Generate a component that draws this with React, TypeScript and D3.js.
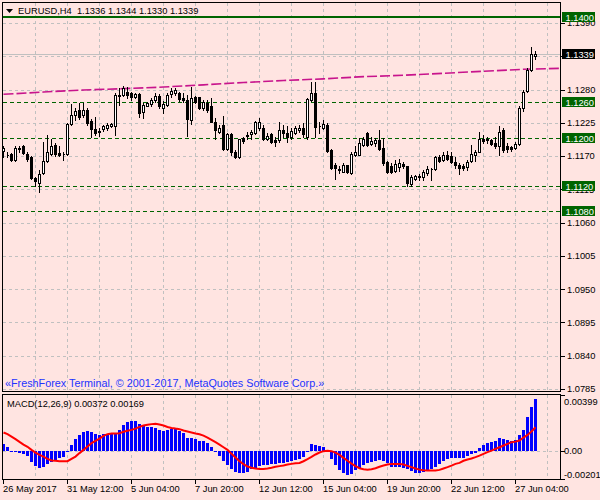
import React, { useEffect, useRef } from 'react';
import { line, scaleLinear, select } from 'd3';

const symbol = 'EURUSD';
const timeframe = 'H4';

const opens = [
  1.1178, 1.1172, 1.1174, 1.1164, 1.1184, 1.1186, 1.1174, 1.1169, 1.1134, 1.1126,
  1.1142, 1.1162, 1.1174, 1.1188, 1.1175, 1.1174, 1.1174, 1.1223, 1.1238, 1.1246,
  1.1238, 1.1247, 1.1228, 1.1214, 1.1212, 1.1215, 1.1217, 1.1220, 1.1220, 1.1271,
  1.1271, 1.1276, 1.1274, 1.1267, 1.1272, 1.1243, 1.1253, 1.1256, 1.1263, 1.1270,
  1.1250, 1.1254, 1.1272, 1.1274, 1.1274, 1.1266, 1.1263, 1.1230, 1.1268, 1.1267,
  1.1249, 1.1257, 1.1252, 1.1227, 1.1210, 1.1221, 1.1182, 1.1206, 1.1177, 1.1169,
  1.1200, 1.1205, 1.1206, 1.1208, 1.1216, 1.1216, 1.1199, 1.1207, 1.1196, 1.1197,
  1.1213, 1.1208, 1.1202, 1.1208, 1.1213, 1.1217, 1.1202, 1.1263, 1.1274, 1.1220,
  1.1217, 1.1221, 1.1180, 1.1155, 1.1149, 1.1144, 1.1155, 1.1142, 1.1172, 1.1172,
  1.1188, 1.1208, 1.1190, 1.1192, 1.1197, 1.1184, 1.1160, 1.1154, 1.1146, 1.1152,
  1.1157, 1.1153, 1.1124, 1.1132, 1.1136, 1.1135, 1.1142, 1.1148, 1.1148, 1.1169,
  1.1164, 1.1172, 1.1170, 1.1161, 1.1155, 1.1154, 1.1152, 1.1162, 1.1171, 1.1177,
  1.1198, 1.1197, 1.1197, 1.1191, 1.1186, 1.1213, 1.1187, 1.1185, 1.1183, 1.1190,
  1.1249, 1.1278, 1.1313, 1.1336,
];
const highs = [
  1.1186, 1.1177, 1.1175, 1.1186, 1.1187, 1.1188, 1.1177, 1.1170, 1.1136, 1.1147,
  1.1194, 1.1205, 1.1199, 1.1191, 1.1186, 1.1177, 1.1224, 1.1256, 1.1249, 1.1258,
  1.1257, 1.1249, 1.1232, 1.1235, 1.1216, 1.1221, 1.1224, 1.1225, 1.1274, 1.1282,
  1.1286, 1.1285, 1.1276, 1.1274, 1.1274, 1.1257, 1.1260, 1.1266, 1.1274, 1.1272,
  1.1261, 1.1274, 1.1282, 1.1282, 1.1276, 1.1274, 1.1271, 1.1285, 1.1270, 1.1268,
  1.1263, 1.1263, 1.1266, 1.1233, 1.1221, 1.1237, 1.1208, 1.1208, 1.1180, 1.1199,
  1.1202, 1.1210, 1.1213, 1.1228, 1.1233, 1.1221, 1.1208, 1.1208, 1.1202, 1.1226,
  1.1221, 1.1219, 1.1216, 1.1219, 1.1221, 1.1224, 1.1266, 1.1292, 1.1292, 1.1227,
  1.1230, 1.1224, 1.1182, 1.1158, 1.1153, 1.1158, 1.1156, 1.1177, 1.1186, 1.1200,
  1.1202, 1.1209, 1.1202, 1.1200, 1.1213, 1.1200, 1.1162, 1.1158, 1.1164, 1.1165,
  1.1161, 1.1154, 1.1139, 1.1139, 1.1140, 1.1147, 1.1153, 1.1150, 1.1170, 1.1172,
  1.1176, 1.1179, 1.1177, 1.1168, 1.1159, 1.1157, 1.1164, 1.1189, 1.1180, 1.1209,
  1.1205, 1.1202, 1.1199, 1.1202, 1.1220, 1.1216, 1.1191, 1.1187, 1.1193, 1.1252,
  1.1280, 1.1315, 1.1351, 1.1344,
];
const lows = [
  1.1168, 1.1168, 1.1162, 1.1162, 1.1177, 1.1174, 1.1162, 1.1132, 1.1121, 1.1110,
  1.1141, 1.1161, 1.1172, 1.1170, 1.1170, 1.1164, 1.1172, 1.1221, 1.1230, 1.1231,
  1.1234, 1.1221, 1.1202, 1.1205, 1.1203, 1.1212, 1.1213, 1.1218, 1.1205, 1.1254,
  1.1269, 1.1266, 1.1262, 1.1266, 1.1235, 1.1233, 1.1252, 1.1252, 1.1260, 1.1250,
  1.1241, 1.1253, 1.1268, 1.1271, 1.1261, 1.1260, 1.1203, 1.1223, 1.1257, 1.1248,
  1.1247, 1.1243, 1.1226, 1.1199, 1.1208, 1.1180, 1.1180, 1.1171, 1.1167, 1.1167,
  1.1191, 1.1199, 1.1199, 1.1206, 1.1213, 1.1197, 1.1197, 1.1191, 1.1187, 1.1194,
  1.1202, 1.1194, 1.1199, 1.1206, 1.1210, 1.1202, 1.1199, 1.1261, 1.1202, 1.1208,
  1.1215, 1.1176, 1.1149, 1.1132, 1.1142, 1.1143, 1.1142, 1.1140, 1.1170, 1.1171,
  1.1186, 1.1187, 1.1188, 1.1186, 1.1180, 1.1155, 1.1142, 1.1142, 1.1144, 1.1145,
  1.1150, 1.1120, 1.1121, 1.1131, 1.1131, 1.1130, 1.1139, 1.1131, 1.1147, 1.1161,
  1.1162, 1.1164, 1.1159, 1.1150, 1.1140, 1.1147, 1.1147, 1.1161, 1.1162, 1.1176,
  1.1191, 1.1191, 1.1188, 1.1183, 1.1172, 1.1176, 1.1177, 1.1179, 1.1181, 1.1188,
  1.1245, 1.1276, 1.1311, 1.1330,
];
const closes = [
  1.1183, 1.1171, 1.1164, 1.1183, 1.1182, 1.1175, 1.1165, 1.1133, 1.1128, 1.1140,
  1.1162, 1.1176, 1.1187, 1.1174, 1.1172, 1.1173, 1.1223, 1.1238, 1.1245, 1.1234,
  1.1247, 1.1224, 1.1214, 1.1208, 1.1209, 1.1219, 1.1221, 1.1223, 1.1271, 1.1270,
  1.1282, 1.1271, 1.1267, 1.1272, 1.1242, 1.1254, 1.1257, 1.1263, 1.1269, 1.1253,
  1.1256, 1.1271, 1.1278, 1.1279, 1.1264, 1.1263, 1.1231, 1.1266, 1.1259, 1.1249,
  1.1260, 1.1246, 1.1227, 1.1213, 1.1216, 1.1182, 1.1206, 1.1177, 1.1169, 1.1198,
  1.1195, 1.1204, 1.1209, 1.1227, 1.1227, 1.1199, 1.1203, 1.1194, 1.1193, 1.1213,
  1.1208, 1.1202, 1.1212, 1.1216, 1.1217, 1.1206, 1.1264, 1.1274, 1.1218, 1.1219,
  1.1223, 1.1178, 1.1151, 1.1150, 1.1147, 1.1155, 1.1143, 1.1174, 1.1176, 1.1191,
  1.1199, 1.1188, 1.1195, 1.1197, 1.1182, 1.1158, 1.1144, 1.1144, 1.1157, 1.1158,
  1.1153, 1.1125, 1.1136, 1.1137, 1.1137, 1.1144, 1.1148, 1.1149, 1.1168, 1.1162,
  1.1172, 1.1166, 1.1161, 1.1155, 1.1151, 1.1150, 1.1161, 1.1174, 1.1177, 1.1198,
  1.1195, 1.1198, 1.1190, 1.1187, 1.1210, 1.1180, 1.1181, 1.1181, 1.1190, 1.1249,
  1.1276, 1.1312, 1.1339, 1.1339,
];

// MACD(12,26,9): main line drawn as histogram, signal as red line
const macdMain = [
  0.00050, 0.00029, -0.00007, -0.00007, -0.00011, -0.00021, -0.00036, -0.00076, -0.00107, -0.00119,
  -0.00112, -0.00095, -0.00076, -0.00064, -0.00052, -0.00041, -0.00002, 0.00043, 0.00084, 0.00114,
  0.00134, 0.00143, 0.00138, 0.00121, 0.00114, 0.00119, 0.00119, 0.00119, 0.00126, 0.00150,
  0.00186, 0.00205, 0.00216, 0.00216, 0.00191, 0.00181, 0.00174, 0.00169, 0.00162, 0.00150,
  0.00145, 0.00150, 0.00155, 0.00155, 0.00145, 0.00126, 0.00095, 0.00095, 0.00084, 0.00071,
  0.00071, 0.00059, 0.00031, 0.00002, -0.00036, -0.00071, -0.00100, -0.00131, -0.00152, -0.00155,
  -0.00155, -0.00148, -0.00131, -0.00119, -0.00107, -0.00100, -0.00100, -0.00095, -0.00095, -0.00088,
  -0.00084, -0.00076, -0.00069, -0.00064, -0.00057, -0.00045, -0.00007, 0.00050, 0.00045, 0.00036,
  0.00029, 0.00002, -0.00057, -0.00100, -0.00136, -0.00157, -0.00171, -0.00164, -0.00136, -0.00121,
  -0.00100, -0.00086, -0.00079, -0.00071, -0.00066, -0.00071, -0.00086, -0.00114, -0.00114, -0.00114,
  -0.00121, -0.00129, -0.00143, -0.00155, -0.00159, -0.00150, -0.00136, -0.00126, -0.00114, -0.00093,
  -0.00071, -0.00057, -0.00052, -0.00050, -0.00050, -0.00052, -0.00034, -0.00024, -0.00016, 0.00019,
  0.00043, 0.00057, 0.00064, 0.00069, 0.00093, 0.00084, 0.00076, 0.00071, 0.00081, 0.00114,
  0.00152, 0.00243, 0.00314, 0.00372,
];
const macdSignal = [
  0.00131, 0.00119, 0.00102, 0.00084, 0.00064, 0.00045, 0.00029, 0.00007, -0.00012, -0.00029,
  -0.00041, -0.00057, -0.00069, -0.00071, -0.00074, -0.00074, -0.00074, -0.00057, -0.00041, -0.00016,
  0.00007, 0.00031, 0.00055, 0.00071, 0.00088, 0.00107, 0.00119, 0.00124, 0.00124, 0.00126,
  0.00136, 0.00143, 0.00150, 0.00159, 0.00171, 0.00181, 0.00186, 0.00191, 0.00193, 0.00188,
  0.00181, 0.00171, 0.00164, 0.00159, 0.00155, 0.00145, 0.00138, 0.00131, 0.00124, 0.00119,
  0.00109, 0.00095, 0.00079, 0.00062, 0.00045, 0.00026, 0.00007, -0.00021, -0.00048, -0.00074,
  -0.00095, -0.00112, -0.00121, -0.00126, -0.00129, -0.00129, -0.00126, -0.00121, -0.00114, -0.00109,
  -0.00105, -0.00098, -0.00093, -0.00088, -0.00086, -0.00074, -0.00059, -0.00043, -0.00026, -0.00012,
  -0.00002, 0.00000, -0.00002, -0.00012, -0.00029, -0.00050, -0.00071, -0.00091, -0.00109, -0.00124,
  -0.00131, -0.00134, -0.00131, -0.00124, -0.00114, -0.00105, -0.00098, -0.00093, -0.00093, -0.00093,
  -0.00098, -0.00107, -0.00116, -0.00126, -0.00134, -0.00138, -0.00141, -0.00141, -0.00141, -0.00136,
  -0.00126, -0.00116, -0.00105, -0.00093, -0.00086, -0.00071, -0.00062, -0.00055, -0.00045, -0.00034,
  -0.00021, -0.00009, 0.00002, 0.00014, 0.00026, 0.00038, 0.00050, 0.00062, 0.00066, 0.00074,
  0.00095, 0.00114, 0.00138, 0.00169,
];

// slow moving average (shifted forward), read every 10 bars
const maBars = [0, 10, 20, 30, 40, 50, 60, 70, 80, 90, 100, 110, 120, 130, 139];
const maValues = [
  1.12721, 1.12759, 1.12793, 1.12815, 1.12841, 1.12878, 1.12916, 1.12949,
  1.12977, 1.13013, 1.13036, 1.13069, 1.13102, 1.13135, 1.13150,
];

const priceTicks = [1.1390, 1.1335, 1.1280, 1.1225, 1.1170, 1.1115, 1.1060, 1.1005, 1.0950, 1.0895, 1.0840, 1.0785];
const resistanceLevel = 1.1400;
const dashedLevels = [1.1260, 1.1200, 1.1120, 1.1080];

const timeTickBars = [0, 16, 32, 48, 64, 80, 96, 112, 128];
const timeTickLabels = ['26 May 2017', '31 May 12:00', '5 Jun 04:00', '7 Jun 20:00', '12 Jun 12:00', '15 Jun 04:00', '19 Jun 20:00', '22 Jun 12:00', '27 Jun 04:00'];
const gridBars = [8, 16, 24, 32, 40, 48, 56, 64, 72, 80, 88, 96, 104, 112, 120, 128, 136];

const macdTicks = [0.00399, 0, -0.00201];
const macdTickLabels = ['0.00399', '0.00', '-0.00201'];

const FONT = 'Tahoma, "Liberation Sans", Arial, sans-serif';
const BG = '#ffe4e1';
const GRID = '#c0c0c0';
const LEVEL = '#006400';

const main = { left: 2.5, right: 560.5, top: 2.5, bottom: 391.5 };
const sub = { top: 394.5, bottom: 479.5 };

function App() {
  const svgRef = useRef<SVGSVGElement | null>(null);

  useEffect(() => {
    document.body.style.margin = '0';
    document.body.style.background = BG;
    const svg = select(svgRef.current);
    svg.selectAll('*').remove();

    const n = closes.length;
    const x = scaleLinear().domain([0, n - 1]).range([3, 3 + 4 * (n - 1)]);
    const y = scaleLinear().domain([1.0785, 1.1390]).range([389, 23]);
    const ym = scaleLinear().domain([-0.00201, 0.00399]).range([479, 395]);
    const snap = (v: number) => Math.round(v) + 0.5;
    const last = n - 1;

    svg.append('rect').attr('width', 600).attr('height', 500).attr('fill', BG);

    const defs = svg.append('defs');
    defs.append('clipPath').attr('id', 'mainClip').append('rect')
      .attr('x', main.left).attr('y', main.top)
      .attr('width', main.right - main.left).attr('height', main.bottom - main.top);
    defs.append('clipPath').attr('id', 'subClip').append('rect')
      .attr('x', main.left).attr('y', sub.top)
      .attr('width', main.right - main.left).attr('height', sub.bottom - sub.top);

    // grid
    const grid = svg.append('g').attr('stroke', GRID).attr('stroke-dasharray', '3,3').attr('shape-rendering', 'crispEdges');
    gridBars.forEach(b => {
      grid.append('line').attr('x1', x(b) + 0.5).attr('x2', x(b) + 0.5).attr('y1', main.top).attr('y2', main.bottom);
      grid.append('line').attr('x1', x(b) + 0.5).attr('x2', x(b) + 0.5).attr('y1', sub.top).attr('y2', sub.bottom);
    });
    priceTicks.forEach(p => {
      grid.append('line').attr('x1', main.left).attr('x2', main.right).attr('y1', snap(y(p))).attr('y2', snap(y(p)));
    });
    grid.append('line').attr('x1', main.left).attr('x2', main.right).attr('y1', snap(ym(0))).attr('y2', snap(ym(0)));

    const plot = svg.append('g').attr('clip-path', 'url(#mainClip)');

    // bid line
    plot.append('line').attr('x1', main.left).attr('x2', main.right)
      .attr('y1', snap(y(closes[last]))).attr('y2', snap(y(closes[last])))
      .attr('stroke', GRID).attr('shape-rendering', 'crispEdges');

    // levels
    plot.append('line').attr('x1', main.left).attr('x2', main.right)
      .attr('y1', Math.round(y(resistanceLevel))).attr('y2', Math.round(y(resistanceLevel)))
      .attr('stroke', LEVEL).attr('stroke-width', 2).attr('shape-rendering', 'crispEdges');
    dashedLevels.forEach(p => {
      plot.append('line').attr('x1', main.left).attr('x2', main.right)
        .attr('y1', snap(y(p))).attr('y2', snap(y(p)))
        .attr('stroke', LEVEL).attr('stroke-dasharray', '4,3').attr('shape-rendering', 'crispEdges');
    });

    // moving average
    const maLine = line<number>().x((_, i) => x(maBars[i]) + 0.5).y(d => y(d));
    plot.append('path').attr('d', maLine(maValues))
      .attr('fill', 'none').attr('stroke', '#c8148c').attr('stroke-width', 1.6).attr('stroke-dasharray', '10,3');

    // candles
    const candles = plot.append('g').attr('shape-rendering', 'crispEdges');
    closes.forEach((c, i) => {
      const o = opens[i];
      const cx = x(i);
      candles.append('line').attr('x1', cx + 0.5).attr('x2', cx + 0.5)
        .attr('y1', Math.round(y(highs[i]))).attr('y2', Math.round(y(lows[i])) + 1)
        .attr('stroke', '#000');
      const top = snap(y(Math.max(o, c)));
      const bot = snap(y(Math.min(o, c)));
      candles.append('path')
        .attr('d', `M${cx - 0.5},${top}H${cx + 1.5}V${bot}H${cx - 0.5}Z`)
        .attr('fill', c >= o ? '#fff' : '#000').attr('stroke', '#000');
    });

    // MACD
    const sp = svg.append('g').attr('clip-path', 'url(#subClip)');
    sp.append('g').attr('fill', '#0000ff').attr('shape-rendering', 'crispEdges')
      .selectAll('rect').data(macdMain).join('rect')
      .attr('x', (_, i) => x(i) - 1).attr('width', 3)
      .attr('y', d => Math.round(Math.min(ym(d), ym(0))))
      .attr('height', d => Math.max(1, Math.round(Math.abs(ym(d) - ym(0)))));
    const sigLine = line<number>().x((_, i) => x(i) + 0.5).y(d => ym(d));
    sp.append('path').attr('d', sigLine(macdSignal))
      .attr('fill', 'none').attr('stroke', '#ff0000').attr('stroke-width', 2);

    // frames
    const frame = svg.append('g').attr('fill', 'none').attr('stroke', '#000').attr('shape-rendering', 'crispEdges');
    frame.append('rect').attr('x', main.left).attr('y', main.top).attr('width', main.right - main.left).attr('height', main.bottom - main.top);
    frame.append('rect').attr('x', main.left).attr('y', sub.top).attr('width', main.right - main.left).attr('height', sub.bottom - sub.top).attr('stroke-width', 1.5);

    // price axis; labels fully hidden by the bid box are skipped
    const axis = svg.append('g').attr('font-family', FONT).attr('font-size', 9.3);
    const bidY = y(closes[last]);
    priceTicks.forEach(p => {
      axis.append('line').attr('x1', main.right).attr('x2', main.right + 4).attr('y1', snap(y(p))).attr('y2', snap(y(p)))
        .attr('stroke', '#000').attr('shape-rendering', 'crispEdges');
      if (Math.abs(y(p) - bidY) > 4) {
        axis.append('text').attr('x', 567).attr('y', y(p) + 3.4).text(p.toFixed(4));
      }
    });
    const box = (p: number, fill: string) => {
      const g = axis.append('g');
      g.append('rect').attr('x', 562).attr('y', Math.round(y(p)) - 5).attr('width', 33).attr('height', 10).attr('fill', fill);
      g.append('text').attr('x', 565.5).attr('y', Math.round(y(p)) + 3.5).attr('fill', '#fff').text(p.toFixed(4));
    };
    box(resistanceLevel, LEVEL);
    dashedLevels.forEach(p => box(p, LEVEL));
    box(closes[last], '#000');

    macdTicks.forEach((v, i) => {
      const ty = i === 0 ? ym(v) + 10 : i === 2 ? ym(v) - 1.5 : ym(v) + 3.4;
      axis.append('line').attr('x1', main.right).attr('x2', main.right + 4).attr('y1', snap(ym(v))).attr('y2', snap(ym(v)))
        .attr('stroke', '#000').attr('shape-rendering', 'crispEdges');
      axis.append('text').attr('x', 564).attr('y', ty).text(macdTickLabels[i]);
    });

    // time axis
    timeTickBars.forEach((b, i) => {
      axis.append('line').attr('x1', x(b) + 0.5).attr('x2', x(b) + 0.5).attr('y1', sub.bottom).attr('y2', sub.bottom + 4)
        .attr('stroke', '#000').attr('shape-rendering', 'crispEdges');
      axis.append('text').attr('x', x(b)).attr('y', 492).text(timeTickLabels[i]);
    });

    // header
    svg.append('path').attr('d', 'M6,9L13,9L9.5,13Z').attr('fill', '#000');
    svg.append('text').attr('x', 18).attr('y', 14).attr('font-family', FONT).attr('font-size', 9.3)
      .style('white-space', 'pre')
      .text(`${symbol},${timeframe}  ${opens[last].toFixed(4)} ${highs[last].toFixed(4)} ${lows[last].toFixed(4)} ${closes[last].toFixed(4)}`);
    svg.append('text').attr('x', 5).attr('y', 387).attr('font-family', FONT).attr('font-size', 10.8).attr('fill', '#2233ff')
      .text('«FreshForex Terminal, © 2001-2017, MetaQuotes Software Corp.»');
    svg.append('text').attr('x', 7).attr('y', 407).attr('font-family', FONT).attr('font-size', 9.3)
      .text(`MACD(12,26,9) ${macdMain[last].toFixed(5)} ${macdSignal[last].toFixed(5)}`);
  }, []);

  return (
    <svg ref={svgRef} width={600} height={500} style={{ position: 'absolute', left: 0, top: 0, display: 'block' }} />
  );
}

export default App;
